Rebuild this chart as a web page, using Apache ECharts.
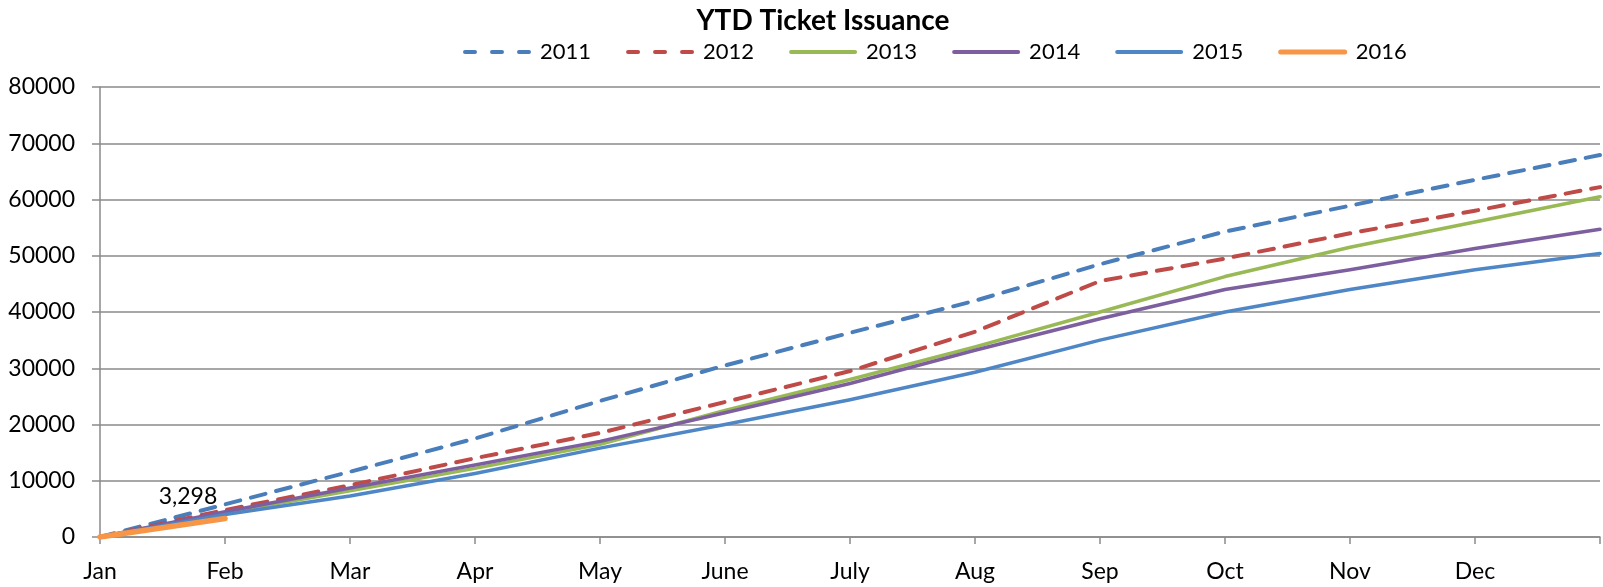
<!DOCTYPE html>
<html>
<head>
<meta charset="utf-8">
<script src="https://cdn.jsdelivr.net/npm/echarts@6/dist/echarts.min.js"></script>
<style>
  html, body { margin: 0; padding: 0; background: #fff; }
  #chart { width: 1603px; height: 587px; }
</style>
</head>
<body>
<div id="chart"></div>
<script>
const categories = ['Jan', 'Feb', 'Mar', 'Apr', 'May', 'June', 'July', 'Aug', 'Sep', 'Oct', 'Nov', 'Dec', ''];
const yTicks = [0, 10000, 20000, 30000, 40000, 50000, 60000, 70000, 80000];
const s2011 = [0, 5800, 11600, 17500, 24200, 30500, 36300, 42000, 48500, 54300, 58900, 63500, 67900];
const s2012 = [0, 4800, 9200, 14000, 18500, 24000, 29500, 36500, 45500, 49500, 54000, 58000, 62200];
const s2013 = [0, 4300, 8200, 12200, 16500, 22500, 28000, 33800, 40000, 46300, 51500, 56000, 60500];
const s2014 = [0, 4500, 8700, 12800, 17000, 22100, 27300, 33200, 38800, 44000, 47500, 51300, 54700];
const s2015 = [0, 4000, 7300, 11300, 15800, 20000, 24400, 29300, 35000, 40000, 44000, 47500, 50400];
const s2016 = [0, 3298];
const seriesNames = ['2011', '2012', '2013', '2014', '2015', '2016'];
const seriesColors = ['#4A7EBB', '#BE4B48', '#98B954', '#7D5FA0', '#4F86C6', '#F79646'];
const seriesDashed = [true, true, false, false, false, false];

const FONT = 'Lato';
const chart = echarts.init(document.getElementById('chart'), null, { renderer: 'canvas' });

function lineSeries(i, data, width, extra) {
  const color = seriesColors[i];
  return Object.assign({
    name: seriesNames[i],
    type: 'line',
    data: data,
    symbol: 'none',
    showSymbol: false,
    smooth: false,
    animation: false,
    itemStyle: { color: color },
    lineStyle: {
      color: color,
      width: width,
      type: seriesDashed[i] ? [15, 11] : 'solid',
      cap: 'round',
      join: 'round'
    }
  }, extra || {});
}

const legendData = seriesNames.map(function (n, i) {
  return {
    name: n,
    lineStyle: {
      color: seriesColors[i],
      width: i === 5 ? 5 : 4,
      type: seriesDashed[i] ? [10, 17] : 'solid',
      cap: 'round'
    },
    itemStyle: { opacity: 0 }
  };
});

chart.setOption({
  animation: false,
  backgroundColor: '#ffffff',
  title: {
    text: 'YTD Ticket Issuance',
    left: 818,
    textAlign: 'center',
    top: 2,
    textStyle: { fontFamily: FONT, fontWeight: 'bold', fontSize: 28, color: '#000' }
  },
  legend: {
    data: legendData,
    left: 458,
    top: 36,
    itemWidth: 64,
    itemHeight: 14,
    itemGap: 35,
    itemStyle: { opacity: 0 },
    textStyle: { fontFamily: FONT, fontSize: 22, color: '#000', padding: [0, 0, 0, 6] }
  },
  grid: { left: 100, right: 1, top: 87, bottom: 50, containLabel: false },
  xAxis: {
    type: 'category',
    data: categories,
    boundaryGap: false,
    axisLine: { lineStyle: { color: '#8a8a8a', width: 1.5 } },
    axisTick: { show: true, interval: 0, length: 7, lineStyle: { color: '#8a8a8a', width: 1.5 } },
    axisLabel: { interval: 0, margin: 23, fontFamily: FONT, fontSize: 23, color: '#000' },
    splitLine: { show: false }
  },
  yAxis: {
    type: 'value',
    min: yTicks[0],
    max: yTicks[yTicks.length - 1],
    interval: yTicks[1] - yTicks[0],
    axisLine: { show: true, lineStyle: { color: '#8a8a8a', width: 1.5 } },
    axisTick: { show: true, length: 8, lineStyle: { color: '#8a8a8a', width: 1.5 } },
    axisLabel: {
      margin: 25, fontFamily: FONT, fontSize: 23, color: '#000',
      formatter: function (v) { return String(v); }
    },
    splitLine: { show: true, lineStyle: { color: '#8a8a8a', width: 1.5 } }
  },
  series: [
    lineSeries(0, s2011, 4),
    lineSeries(1, s2012, 4),
    lineSeries(2, s2013, 3.5),
    lineSeries(3, s2014, 3.5),
    lineSeries(4, s2015, 3.5),
    lineSeries(5, s2016, 5.5, {
      symbol: 'circle',
      symbolSize: 2,
      showSymbol: true,
      label: {
        show: true,
        position: 'top',
        offset: [-37, -4],
        fontFamily: FONT,
        fontSize: 23,
        color: '#000',
        formatter: function (p) {
          return p.dataIndex === 1 ? Number(p.value).toLocaleString('en-US') : '';
        }
      }
    })
  ]
});
</script>
</body>
</html>
